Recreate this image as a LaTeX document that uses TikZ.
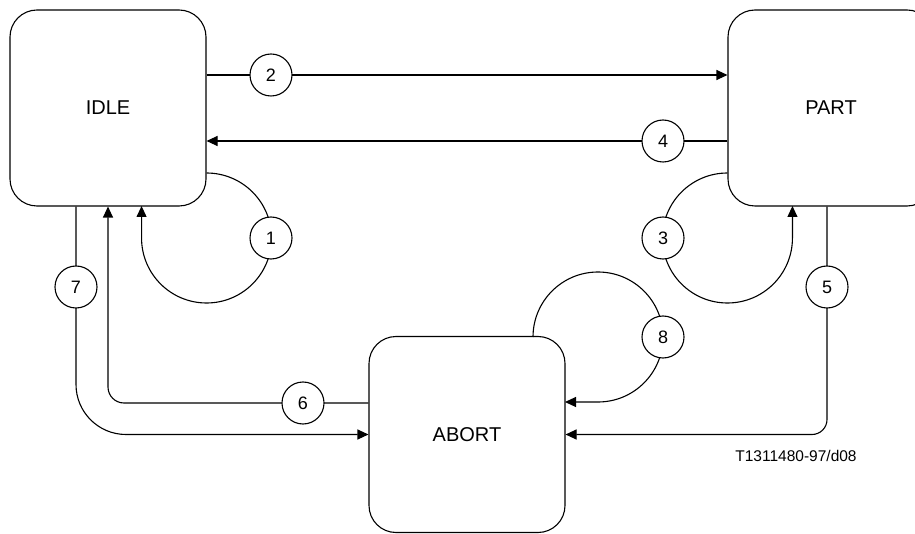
\documentclass[tikz,border=0pt]{standalone}
\usepackage{fontspec}
\setmainfont{Liberation Sans}
\usetikzlibrary{arrows.meta}
\pgfdeclarelayer{bg}
\pgfsetlayers{bg,main}
\begin{document}
\begin{tikzpicture}[x=1pt,y=-1pt, line width=1.1pt,
  state/.style={draw, line width=1.1pt, rounded corners=27pt, minimum width=196pt, minimum height=196pt, inner sep=0pt, font=\fontsize{20}{24}\selectfont},
  lab/.style={draw, line width=1.1pt, circle, fill=white, minimum size=42pt, inner sep=0pt, font=\fontsize{18}{21}\selectfont},
  arr/.style={draw=black, line width=1.1pt, -{Triangle[length=11pt,width=10pt]}}]
\useasboundingbox (0,0) rectangle (915,534);
\clip (0,0) rectangle (915,534);
\node[state] (IDLE) at (108,108) {IDLE};
\node[state, minimum width=206pt] (PART) at (831,108) {PART};
\node[state] (ABORT) at (467,434.5) {ABORT};
\node[lab] (c1) at (271,238) {1};
\node[lab] (c2) at (271,75) {2};
\node[lab] (c3) at (663,238) {3};
\node[lab] (c4) at (663,141) {4};
\node[lab] (c5) at (827,287) {5};
\node[lab] (c6) at (303,403) {6};
\node[lab] (c7) at (76,287) {7};
\node[lab] (c8) at (663,337) {8};
\node[font=\fontsize{15.5}{18}\selectfont, inner sep=0pt] (ref) at (796,456) {T1311480-97/d08};
\coordinate (o1) at (IDLE.east |- c1);
\coordinate (o3) at (PART.west |- c3);
\coordinate (o8) at ([xshift=-65pt]c8.center);
\begin{pgfonlayer}{bg}
\draw[arr] (IDLE.east |- c2) -- (PART.west |- c2);
\draw[arr] (PART.west |- c4) -- (IDLE.east |- c4);
\draw[arr] ([yshift=65pt]o1) arc[start angle=90, end angle=-180, radius=65pt] -- ++(0pt,32pt);
\draw[arr] ([yshift=65pt]o3) arc[start angle=90, end angle=360, radius=65pt] -- ++(0pt,32pt);
\draw[arr] ([xshift=-65pt]o8) arc[start angle=180, end angle=-90, radius=65pt] -- ++(-33pt,0pt);
\draw[arr, rounded corners=15pt] (PART.south -| c5) |- (ABORT.east);
\draw[arr, rounded corners=16pt] (ABORT.west |- c6) -| (IDLE.south);
\draw[arr, rounded corners=50pt] (IDLE.south -| c7) |- (ABORT.west);
\end{pgfonlayer}
\end{tikzpicture}
\end{document}
